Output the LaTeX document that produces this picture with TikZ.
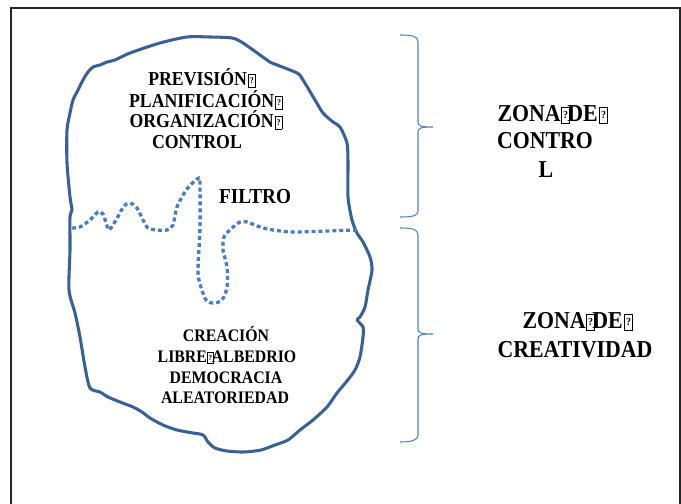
\documentclass[tikz,border=0pt]{standalone}
\usepackage{fontspec}
\setmainfont{Liberation Serif}[FakeStretch=0.9]
\definecolor{blobcol}{HTML}{3A6193}
\definecolor{dotcol}{HTML}{4A7EBF}
\definecolor{bracecol}{HTML}{4F81BD}
\newcommand\qbx{{\fboxsep=0.05em\fboxrule=0.045em\fbox{\rule[-0.03em]{0pt}{0.5em}\raisebox{0.1em}{\scalebox{0.45}{?}}}}}
\tikzset{
  blob/.style={draw=blobcol, line width=2.3pt, line join=round},
  filtroline/.style={draw=dotcol, line width=2.5pt, dash pattern=on 3pt off 2.2pt},
  bracepath/.style={draw=bracecol, line width=0.8pt},
  frameline/.style={draw=black!85, line width=1.2pt},
  toptxt/.style={font=\bfseries\fontsize{14.8pt}{17pt}\selectfont, anchor=base, inner sep=0pt},
  bottxt/.style={font=\bfseries\fontsize{13.2pt}{15pt}\selectfont, anchor=base, inner sep=0pt},
  filtxt/.style={font=\bfseries\fontsize{16pt}{18pt}\selectfont, anchor=base, inner sep=0pt},
  zonetxt/.style={font=\bfseries\fontsize{18.2pt}{21pt}\selectfont, anchor=base, inner sep=0pt}
}
\begin{document}
\begin{tikzpicture}[x=0.75pt,y=-0.75pt]
\useasboundingbox (0,0) rectangle (681,503);
% frame
\draw[frameline] (11,504) -- (11,8) -- (680,8) -- (680,504);
% blob
\draw[blob] plot[smooth cycle, tension=0.45] coordinates {
(187,37) (210,37) (232,38) (243,43) (267,60) (272,63) (297,73) (303,80) (315,100) (323,113) (333,122) (340,127) (347,143) (348,163) (348,197) (352,220) (357,233) (363,242) (370,257) (372,270) (368,290) (365,307) (360,317) (357,320) (363,327) (363,337) (360,357) (355,370) (347,381) (337,393) (327,407) (313,420) (300,430) (288,440) (275,445) (261,450) (244,452) (227,451) (215,448) (208,442) (203,435) (193,433) (177,430) (163,425) (150,418) (142,412) (133,407) (120,402) (108,397) (100,392) (90,388) (85,367) (80,337) (75,313) (69,290) (70,250) (70,217) (72,210) (70,197) (67,163) (67,130) (70,113) (73,100) (78,90) (83,80) (88,72) (93,67) (100,65) (107,62) (115,60) (130,53) (160,43)};
% filter line
\draw[filtroline] plot[smooth, tension=0.5] coordinates {
(72,228) (80,227) (90,220) (98,212) (103,214) (107,226) (109,230) (113,225) (120,213) (124,206) (130,203) (137,208) (143,220) (148,228) (157,230) (167,230) (173,225) (177,207) (187,189) (197,179) (200,178)}
 -- plot[smooth, tension=0.5] coordinates {
(200,178) (200,227) (198,270) (200,284) (206,300) (213,303) (222,300) (227,287) (227,267) (223,250) (224,237) (231,229) (240,222) (247,222) (260,227) (273,230) (293,232) (327,231) (357,230)};
% braces
\draw[bracepath] (400,35) .. controls (412,35) and (418,36) .. (418,42) -- (418,122)
  .. controls (418,126) and (421,127) .. (433,127) .. controls (421,127) and (418,128) .. (418,132)
  -- (418,211) .. controls (418,216) and (412,217) .. (400,217);
\draw[bracepath] (400,228) .. controls (412,228) and (418,229) .. (418,235) -- (418,329)
  .. controls (418,333) and (421,334) .. (433,334) .. controls (421,334) and (418,335) .. (418,339)
  -- (418,435) .. controls (418,440) and (412,442) .. (400,442);
% top text
\node[toptxt] (t1) at (202,85) {PREVISIÓN\kern0.05em\qbx};
\node[toptxt] (t2) at (206,107) {PLANIFICACIÓN\kern0.05em\qbx};
\node[toptxt] (t3) at (206,127) {ORGANIZACIÓN\kern0.05em\qbx};
\node[toptxt] (t4) at (197,148) {CONTROL};
% filtro
\node[filtxt] (f) at (255,203) {FILTRO};
% bottom text
\node[bottxt] (b1) at (226,341) {CREACIÓN};
\node[bottxt] (b2) at (227,362) {LIBRE\qbx\kern-0.12em ALBEDRIO};
\node[bottxt] (b3) at (226,383) {DEMOCRACIA};
\node[bottxt] (b4) at (225,403) {ALEATORIEDAD};
% zones
\node[zonetxt] (z1) at (553,121) {ZONA\qbx\kern-0.12em DE\kern0.05em\qbx};
\node[zonetxt] (z2) at (545,148) {CONTRO};
\node[zonetxt] (z3) at (546,177) {L};
\node[zonetxt] (z4) at (578,328) {ZONA\qbx\kern-0.12em DE\kern0.05em\qbx};
\node[zonetxt] (z5) at (575,357) {CREATIVIDAD};
\end{tikzpicture}
\end{document}
